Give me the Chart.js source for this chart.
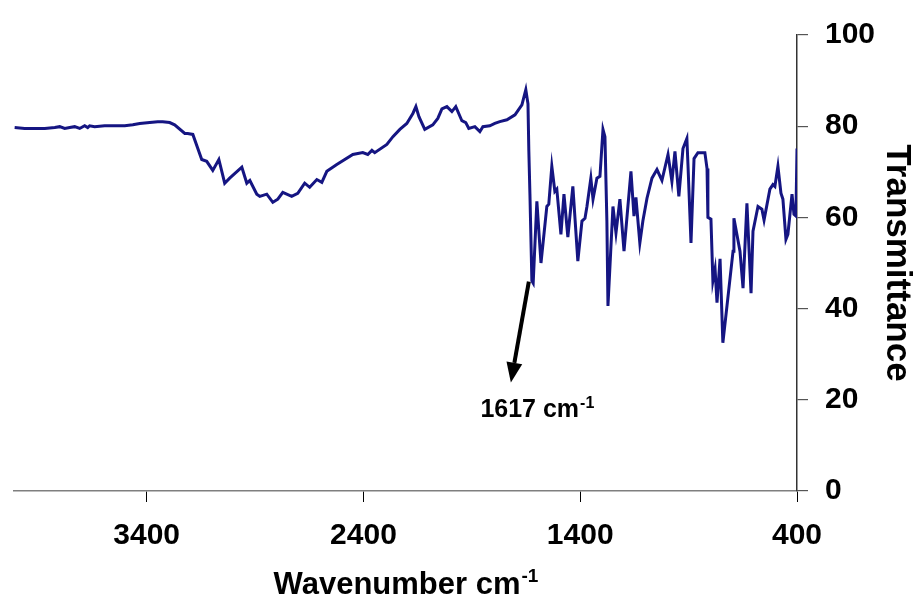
<!DOCTYPE html>
<html>
<head>
<meta charset="utf-8">
<script src="https://cdn.jsdelivr.net/npm/chart.js@4.4.1/dist/chart.umd.min.js"></script>
<style>
  html, body { margin: 0; padding: 0; background: #fff; }
  #wrap { width: 918px; height: 604px; }
</style>
</head>
<body>
<div id="wrap"><canvas id="irChart" width="918" height="604"></canvas></div>
<script>
// FTIR spectrum: wavenumber (cm-1) against transmittance (%)
const wavenumbers = [
  4009, 3963, 3917, 3870, 3824, 3801, 3778, 3755, 3732, 3709,
  3686, 3672, 3663, 3640, 3594, 3547, 3501, 3464, 3432, 3386,
  3349, 3326, 3294, 3271, 3224, 3211, 3187, 3146, 3123, 3095,
  3067, 3040, 3017, 2961, 2938, 2924, 2892, 2878, 2846, 2818,
  2795, 2772, 2731, 2703, 2671, 2648, 2615, 2592, 2569, 2523,
  2449, 2403, 2380, 2361, 2348, 2292, 2264, 2232, 2200, 2172,
  2158, 2144, 2117, 2080, 2057, 2038, 2015, 1992, 1974, 1946,
  1928, 1914, 1886, 1863, 1849, 1817, 1794, 1771, 1738, 1701,
  1669, 1651, 1641, 1637, 1632, 1623, 1617, 1600, 1581, 1554,
  1545, 1531, 1517, 1508, 1489, 1475, 1457, 1434, 1411, 1392,
  1378, 1369, 1351, 1341, 1323, 1309, 1295, 1286, 1277, 1272,
  1249, 1235, 1217, 1198, 1166, 1152, 1143, 1125, 1111, 1092,
  1069, 1046, 1023, 995, 977, 963, 945, 926, 908, 903,
  889, 875, 857, 825, 815, 811, 797, 788, 778, 769,
  755, 742, 723, 695, 691, 663, 649, 631, 612, 603,
  580, 562, 552, 525, 511, 502, 488, 474, 465, 451,
  442, 423, 414, 405, 400
];
const transmittance = [
  79.7, 79.5, 79.5, 79.5, 79.7, 79.9, 79.5, 79.7, 79.9, 79.5,
  80.1, 79.7, 80.1, 79.9, 80.1, 80.1, 80.1, 80.3, 80.6, 80.8,
  81.0, 81.0, 80.8, 80.3, 78.4, 78.4, 78.2, 72.7, 72.3, 70.3,
  72.7, 67.5, 68.6, 71.0, 67.5, 68.1, 65.1, 64.6, 65.1, 63.3,
  64.0, 65.5, 64.6, 65.3, 67.5, 66.6, 68.3, 67.7, 70.1, 71.6,
  73.8, 74.2, 73.8, 74.7, 74.2, 76.0, 77.7, 79.3, 80.6, 82.8,
  84.3, 82.1, 79.3, 80.3, 81.7, 83.8, 84.3, 83.2, 84.3, 81.2,
  80.8, 79.5, 79.9, 78.8, 79.9, 80.1, 80.6, 81.0, 81.4, 82.5,
  84.7, 88.0, 84.9, 74.5, 65.1, 46.1, 45.6, 63.5, 50.0, 62.4,
  62.9, 71.2, 65.7, 66.2, 56.3, 65.1, 55.7, 66.8, 50.4, 59.2,
  59.8, 62.4, 68.6, 64.0, 68.6, 69.0, 79.3, 77.7, 59.2, 40.6,
  62.4, 56.6, 64.0, 52.6, 70.1, 60.3, 64.4, 54.4, 59.2, 64.2,
  68.6, 70.5, 68.1, 73.8, 67.9, 74.5, 64.6, 75.1, 77.3, 71.6,
  54.4, 72.9, 74.2, 74.2, 70.7, 60.0, 59.6, 46.1, 48.7, 41.3,
  50.9, 32.5, 40.6, 52.6, 59.8, 52.6, 44.5, 63.1, 43.4, 57.0,
  62.4, 61.8, 59.4, 66.2, 67.2, 66.8, 71.2, 65.3, 64.0, 55.2,
  56.3, 65.1, 60.7, 60.3, 75.1
];
const xTicks = [3400, 2400, 1400, 400];
const peakLabel = '1617';

// arrow and label for the 1617 band, in axis units
const arrowFrom = [1637, 45.9];
const arrowTo = [1720, 23.8];
const labelAt = [1600, 16.2];

const FONT = "'Liberation Sans', Arial, sans-serif";

// text with a superscript "-1" centred on cx
function drawSupText(ctx, base, sup, cx, y, size) {
  ctx.save();
  ctx.fillStyle = '#000';
  ctx.textBaseline = 'alphabetic';
  ctx.textAlign = 'left';
  ctx.font = 'bold ' + size + 'px ' + FONT;
  const w1 = ctx.measureText(base).width;
  const supSize = Math.round(size * 0.62);
  ctx.font = 'bold ' + supSize + 'px ' + FONT;
  const w2 = ctx.measureText(sup).width;
  const x0 = cx - (w1 + w2) / 2;
  ctx.font = 'bold ' + size + 'px ' + FONT;
  ctx.fillText(base, x0, y);
  ctx.font = 'bold ' + supSize + 'px ' + FONT;
  ctx.fillText(sup, x0 + w1 + 1, y - size * 0.38);
  ctx.restore();
}

const extras = {
  id: 'extras',
  afterDraw(chart) {
    const ctx = chart.ctx;
    const xs = chart.scales.x, ys = chart.scales.y;
    const area = chart.chartArea;

    // x axis title
    drawSupText(ctx, 'Wavenumber cm', '-1', (area.left + area.right) / 2, chart.height - 10, 31);

    // arrow pointing away from the 1617 band
    const x0 = xs.getPixelForValue(arrowFrom[0]), y0 = ys.getPixelForValue(arrowFrom[1]);
    const x1 = xs.getPixelForValue(arrowTo[0]), y1 = ys.getPixelForValue(arrowTo[1]);
    const ang = Math.atan2(y1 - y0, x1 - x0);
    const headLen = 20, headW = 8;
    const bx = x1 - headLen * Math.cos(ang), by = y1 - headLen * Math.sin(ang);
    ctx.save();
    ctx.strokeStyle = '#000';
    ctx.fillStyle = '#000';
    ctx.lineWidth = 4;
    ctx.beginPath();
    ctx.moveTo(x0, y0);
    ctx.lineTo(bx, by);
    ctx.stroke();
    ctx.beginPath();
    ctx.moveTo(x1, y1);
    ctx.lineTo(bx + headW * Math.sin(ang), by - headW * Math.cos(ang));
    ctx.lineTo(bx - headW * Math.sin(ang), by + headW * Math.cos(ang));
    ctx.closePath();
    ctx.fill();
    ctx.restore();

    drawSupText(ctx, peakLabel + ' cm', '-1', xs.getPixelForValue(labelAt[0]), ys.getPixelForValue(labelAt[1]), 25);
  }
};

const points = wavenumbers.map((w, i) => ({ x: w, y: transmittance[i] }));

new Chart(document.getElementById('irChart'), {
  type: 'line',
  data: {
    datasets: [{
      data: points,
      borderColor: '#151582',
      borderWidth: 3,
      pointRadius: 0,
      tension: 0,
      fill: false
    }]
  },
  options: {
    responsive: false,
    animation: false,
    layout: { padding: { left: 14, top: 33, right: 0, bottom: 0 } },
    plugins: {
      legend: { display: false },
      tooltip: { enabled: false }
    },
    scales: {
      x: {
        type: 'linear',
        reverse: true,
        min: 400,
        max: 4012,
        afterBuildTicks: (scale) => { scale.ticks = xTicks.map(v => ({ value: v })); },
        afterFit: (scale) => { scale.height = 113; },
        grid: { drawOnChartArea: false, drawTicks: true, tickLength: 11, color: '#000', lineWidth: 1 },
        border: { color: '#7f7f7f', width: 1.5 },
        ticks: {
          color: '#000',
          padding: 16,
          maxRotation: 0,
          callback: (v) => String(v),
          font: { family: FONT, size: 30, weight: 'bold' }
        }
      },
      y: {
        position: 'right',
        min: 0,
        max: 100,
        afterFit: (scale) => { scale.width = 121; },
        grid: { drawOnChartArea: false, drawTicks: true, tickLength: 11, color: '#555', lineWidth: 1.2 },
        border: { color: '#333', width: 1.5 },
        ticks: {
          stepSize: 20,
          color: '#000',
          padding: 17,
          font: { family: FONT, size: 30, weight: 'bold' }
        },
        title: {
          display: true,
          text: 'Transmittance',
          color: '#000',
          padding: 0,
          font: { family: FONT, size: 35, weight: 'bold' }
        }
      }
    }
  },
  plugins: [extras]
});
</script>
</body>
</html>
